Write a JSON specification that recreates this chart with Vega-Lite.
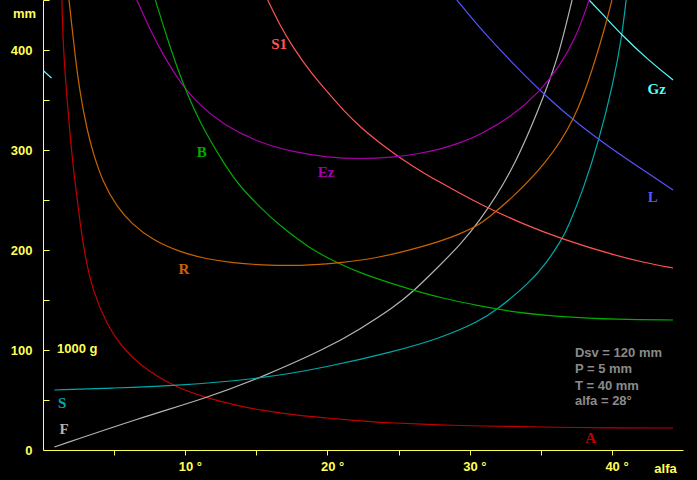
{
  "$schema": "https://vega.github.io/schema/vega-lite/v6.json",
  "width": 640,
  "height": 450,
  "autosize": {"type": "none"},
  "padding": {"left": 43, "top": 0, "right": 14, "bottom": 30},
  "background": "#000000",
  "config": {
    "view": {"stroke": null},
    "axis": {
      "grid": false,
      "domainColor": "#ffff55",
      "tickColor": "#ffff55",
      "labelColor": "#ffff55",
      "titleColor": "#ffff55",
      "labelFont": "Liberation Sans",
      "labelFontWeight": "bold",
      "labelFontSize": 13,
      "titleFont": "Liberation Sans",
      "titleFontWeight": "bold",
      "titleFontSize": 13,
      "labelOverlap": false,
      "labelFlush": false
    }
  },
  "datasets": {
    "curves": [
      {"c": "A", "x": 1.33, "y": 450}, {"c": "A", "x": 1.4, "y": 410}, {"c": "A", "x": 1.6, "y": 367}, {"c": "A", "x": 1.83, "y": 327}, {"c": "A", "x": 2.1, "y": 285}, {"c": "A", "x": 2.4, "y": 252}, {"c": "A", "x": 2.6, "y": 228}, {"c": "A", "x": 2.95, "y": 194}, {"c": "A", "x": 3.5, "y": 159}, {"c": "A", "x": 4.5, "y": 125}, {"c": "A", "x": 5.6, "y": 102}, {"c": "A", "x": 6.8, "y": 85}, {"c": "A", "x": 9.1, "y": 64}, {"c": "A", "x": 11.5, "y": 52}, {"c": "A", "x": 13.8, "y": 44}, {"c": "A", "x": 15.25, "y": 40}, {"c": "A", "x": 17.6, "y": 35}, {"c": "A", "x": 20, "y": 32}, {"c": "A", "x": 22.3, "y": 29}, {"c": "A", "x": 24.6, "y": 27}, {"c": "A", "x": 28, "y": 25}, {"c": "A", "x": 30.7, "y": 24}, {"c": "A", "x": 35, "y": 23}, {"c": "A", "x": 40, "y": 22}, {"c": "A", "x": 44.3, "y": 22},
      {"c": "F", "x": 0.8, "y": 3}, {"c": "F", "x": 6.8, "y": 32}, {"c": "F", "x": 11.5, "y": 52}, {"c": "F", "x": 15.25, "y": 72}, {"c": "F", "x": 20, "y": 102}, {"c": "F", "x": 22.3, "y": 121}, {"c": "F", "x": 24.6, "y": 142}, {"c": "F", "x": 26, "y": 158}, {"c": "F", "x": 28, "y": 186}, {"c": "F", "x": 29.3, "y": 205}, {"c": "F", "x": 30.5, "y": 225}, {"c": "F", "x": 33, "y": 277}, {"c": "F", "x": 35.4, "y": 360}, {"c": "F", "x": 36.3, "y": 397}, {"c": "F", "x": 37.2, "y": 450},
      {"c": "S", "x": 0.8, "y": 60}, {"c": "S", "x": 5, "y": 62}, {"c": "S", "x": 9.1, "y": 64}, {"c": "S", "x": 15.25, "y": 71}, {"c": "S", "x": 20, "y": 83}, {"c": "S", "x": 24.6, "y": 98}, {"c": "S", "x": 28, "y": 112}, {"c": "S", "x": 30.7, "y": 129}, {"c": "S", "x": 31.9, "y": 140}, {"c": "S", "x": 34.2, "y": 167}, {"c": "S", "x": 35.4, "y": 187}, {"c": "S", "x": 36.5, "y": 211}, {"c": "S", "x": 36.9, "y": 222}, {"c": "S", "x": 38, "y": 261}, {"c": "S", "x": 39.1, "y": 310}, {"c": "S", "x": 40.1, "y": 367}, {"c": "S", "x": 40.7, "y": 413}, {"c": "S", "x": 41, "y": 450},
      {"c": "Gz", "x": 38.4, "y": 450}, {"c": "Gz", "x": 39.6, "y": 432}, {"c": "Gz", "x": 40.7, "y": 415}, {"c": "Gz", "x": 42.4, "y": 392}, {"c": "Gz", "x": 44.3, "y": 370},
      {"c": "Gz2", "x": 0.05, "y": 379}, {"c": "Gz2", "x": 0.6, "y": 372},
      {"c": "L", "x": 29.1, "y": 450}, {"c": "L", "x": 30.7, "y": 422}, {"c": "L", "x": 33, "y": 387}, {"c": "L", "x": 35.4, "y": 353}, {"c": "L", "x": 37.7, "y": 325}, {"c": "L", "x": 40.1, "y": 300}, {"c": "L", "x": 42.4, "y": 278}, {"c": "L", "x": 44.3, "y": 260},
      {"c": "S1", "x": 15.8, "y": 450}, {"c": "S1", "x": 16.65, "y": 425}, {"c": "S1", "x": 17.6, "y": 402}, {"c": "S1", "x": 18.8, "y": 378}, {"c": "S1", "x": 20, "y": 358}, {"c": "S1", "x": 21.1, "y": 340}, {"c": "S1", "x": 22.3, "y": 323}, {"c": "S1", "x": 23.5, "y": 309}, {"c": "S1", "x": 25.2, "y": 291}, {"c": "S1", "x": 27, "y": 275}, {"c": "S1", "x": 28, "y": 267}, {"c": "S1", "x": 29.3, "y": 257}, {"c": "S1", "x": 30.7, "y": 246}, {"c": "S1", "x": 33.9, "y": 225}, {"c": "S1", "x": 36.5, "y": 211}, {"c": "S1", "x": 40.1, "y": 195}, {"c": "S1", "x": 42.4, "y": 187}, {"c": "S1", "x": 44.3, "y": 182},
      {"c": "Ez", "x": 6.6, "y": 450}, {"c": "Ez", "x": 7.5, "y": 421}, {"c": "Ez", "x": 8.4, "y": 396}, {"c": "Ez", "x": 9.8, "y": 364}, {"c": "Ez", "x": 11, "y": 345}, {"c": "Ez", "x": 12.7, "y": 325}, {"c": "Ez", "x": 15.25, "y": 307}, {"c": "Ez", "x": 17.6, "y": 298}, {"c": "Ez", "x": 20, "y": 292.5}, {"c": "Ez", "x": 22.3, "y": 291}, {"c": "Ez", "x": 24.6, "y": 292.5}, {"c": "Ez", "x": 26.3, "y": 296}, {"c": "Ez", "x": 28, "y": 301}, {"c": "Ez", "x": 29.3, "y": 307}, {"c": "Ez", "x": 30.7, "y": 315}, {"c": "Ez", "x": 33, "y": 334}, {"c": "Ez", "x": 34.9, "y": 358}, {"c": "Ez", "x": 36.3, "y": 383}, {"c": "Ez", "x": 37.5, "y": 413}, {"c": "Ez", "x": 38.4, "y": 450},
      {"c": "B", "x": 7.9, "y": 450}, {"c": "B", "x": 8.7, "y": 413}, {"c": "B", "x": 9.8, "y": 367}, {"c": "B", "x": 11, "y": 328}, {"c": "B", "x": 12.65, "y": 288}, {"c": "B", "x": 13.8, "y": 264}, {"c": "B", "x": 15.25, "y": 243}, {"c": "B", "x": 16.5, "y": 226}, {"c": "B", "x": 18.8, "y": 201}, {"c": "B", "x": 20.7, "y": 187}, {"c": "B", "x": 22.3, "y": 177}, {"c": "B", "x": 24.6, "y": 166}, {"c": "B", "x": 26, "y": 160}, {"c": "B", "x": 28, "y": 152}, {"c": "B", "x": 30.7, "y": 144}, {"c": "B", "x": 33, "y": 138}, {"c": "B", "x": 36.5, "y": 133}, {"c": "B", "x": 40.4, "y": 130.5}, {"c": "B", "x": 44.3, "y": 130},
      {"c": "R", "x": 1.83, "y": 450}, {"c": "R", "x": 2.0, "y": 428}, {"c": "R", "x": 2.25, "y": 395}, {"c": "R", "x": 2.6, "y": 357}, {"c": "R", "x": 3.1, "y": 320}, {"c": "R", "x": 3.5, "y": 298}, {"c": "R", "x": 4.2, "y": 268}, {"c": "R", "x": 5.2, "y": 243}, {"c": "R", "x": 6.25, "y": 226}, {"c": "R", "x": 7.7, "y": 210}, {"c": "R", "x": 9.6, "y": 198}, {"c": "R", "x": 11.5, "y": 191}, {"c": "R", "x": 13.4, "y": 187}, {"c": "R", "x": 15.25, "y": 185}, {"c": "R", "x": 18.1, "y": 184}, {"c": "R", "x": 20.9, "y": 187}, {"c": "R", "x": 23.5, "y": 192}, {"c": "R", "x": 25.8, "y": 200}, {"c": "R", "x": 28, "y": 209}, {"c": "R", "x": 29.3, "y": 216}, {"c": "R", "x": 30.5, "y": 224}, {"c": "R", "x": 31.2, "y": 231}, {"c": "R", "x": 33, "y": 252}, {"c": "R", "x": 35.4, "y": 287}, {"c": "R", "x": 37.4, "y": 330}, {"c": "R", "x": 38.7, "y": 383}, {"c": "R", "x": 39.6, "y": 427}, {"c": "R", "x": 40, "y": 450}
    ],
    "labels": [
      {"c": "S1", "t": "S1", "x": 16.6, "y": 406},
      {"c": "Ez", "t": "Ez", "x": 19.9, "y": 278},
      {"c": "B", "t": "B", "x": 11.17, "y": 298},
      {"c": "R", "t": "R", "x": 9.9, "y": 181},
      {"c": "Gz", "t": "Gz", "x": 43.15, "y": 361},
      {"c": "L", "t": "L", "x": 42.87, "y": 253},
      {"c": "A", "t": "A", "x": 38.5, "y": 12},
      {"c": "S", "t": "S", "x": 1.34, "y": 47},
      {"c": "F", "t": "F", "x": 1.48, "y": 21}
    ],
    "notes": [
      {"t": "Dsv = 120 mm", "x": 37.4, "y": 97},
      {"t": "P = 5 mm", "x": 37.4, "y": 81},
      {"t": "T = 40 mm", "x": 37.4, "y": 64},
      {"t": "alfa = 28°", "x": 37.4, "y": 49}
    ],
    "unit": [
      {"t": "1000 g", "x": 0.98, "y": 101}
    ],
    "marker": [
      {"x": 28}
    ],
    "ystem": [
      {"x": 0}
    ]
  },
  "encoding": {
    "x": {
      "field": "x",
      "type": "quantitative",
      "scale": {"domain": [0, 45], "nice": false, "zero": false},
      "axis": {
        "title": "alfa",
        "values": [5, 10, 15, 20, 25, 30, 35, 40],
        "labelExpr": "datum.value % 10 == 0 ? datum.value + ' °' : ''",
        "labelAlign": "left",
        "labelOffset": -7,
        "labelPadding": 5,
        "labelBaseline": "top",
        "tickSize": 5,
        "titleX": 622,
        "titleY": 18,
        "titleAlign": "center",
        "titleBaseline": "middle"
      }
    },
    "y": {
      "field": "y",
      "type": "quantitative",
      "scale": {"domain": [0, 450], "nice": false},
      "axis": {
        "title": "mm",
        "values": [0, 50, 100, 150, 200, 250, 300, 350, 400, 450],
        "labelExpr": "datum.value % 100 == 0 ? datum.label : ''",
        "tickSize": -6,
        "labelPadding": 17,
        "titleAngle": 0,
        "titleX": -19,
        "titleY": 13,
        "titleAlign": "center",
        "titleBaseline": "middle"
      }
    }
  },
  "layer": [
    {
      "data": {"name": "ystem"},
      "mark": {"type": "rule", "color": "#ffff55", "strokeWidth": 1, "clip": false},
      "encoding": {"y": {"datum": -13}, "y2": {"datum": 0}}
    },
    {
      "data": {"name": "marker"},
      "mark": {"type": "rule", "color": "#ffffaa", "strokeDash": [1, 2], "strokeWidth": 1},
      "encoding": {"y": {"datum": 0}, "y2": {"datum": 450}}
    },
    {
      "data": {"name": "curves"},
      "mark": {"type": "line", "strokeWidth": 1.2, "clip": true, "interpolate": "basis"},
      "encoding": {
        "color": {
          "field": "c",
          "type": "nominal",
          "scale": {
            "domain": ["A", "F", "S", "Gz", "Gz2", "L", "S1", "Ez", "B", "R"],
            "range": ["#c00000", "#b4b4b4", "#00aaaa", "#55ffff", "#55ffff", "#5555ff", "#ff5555", "#aa00aa", "#00aa00", "#c86400"]
          },
          "legend": null
        }
      }
    },
    {
      "data": {"name": "labels"},
      "mark": {"type": "text", "font": "Liberation Serif", "fontWeight": "bold", "fontSize": 15, "align": "center", "baseline": "middle"},
      "encoding": {
        "text": {"field": "t"},
        "color": {
          "field": "c",
          "type": "nominal",
          "scale": {
            "domain": ["A", "F", "S", "Gz", "Gz2", "L", "S1", "Ez", "B", "R"],
            "range": ["#c00000", "#aaaaaa", "#00aaaa", "#55ffff", "#55ffff", "#5555ff", "#ff5555", "#aa00aa", "#00aa00", "#c86400"]
          },
          "legend": null
        }
      }
    },
    {
      "data": {"name": "notes"},
      "mark": {"type": "text", "font": "Liberation Sans", "fontWeight": "bold", "fontSize": 13, "align": "left", "baseline": "middle", "color": "#8a8a8a"},
      "encoding": {"text": {"field": "t"}}
    },
    {
      "data": {"name": "unit"},
      "mark": {"type": "text", "font": "Liberation Sans", "fontWeight": "bold", "fontSize": 13, "align": "left", "baseline": "middle", "color": "#ffff55"},
      "encoding": {"text": {"field": "t"}}
    }
  ]
}
